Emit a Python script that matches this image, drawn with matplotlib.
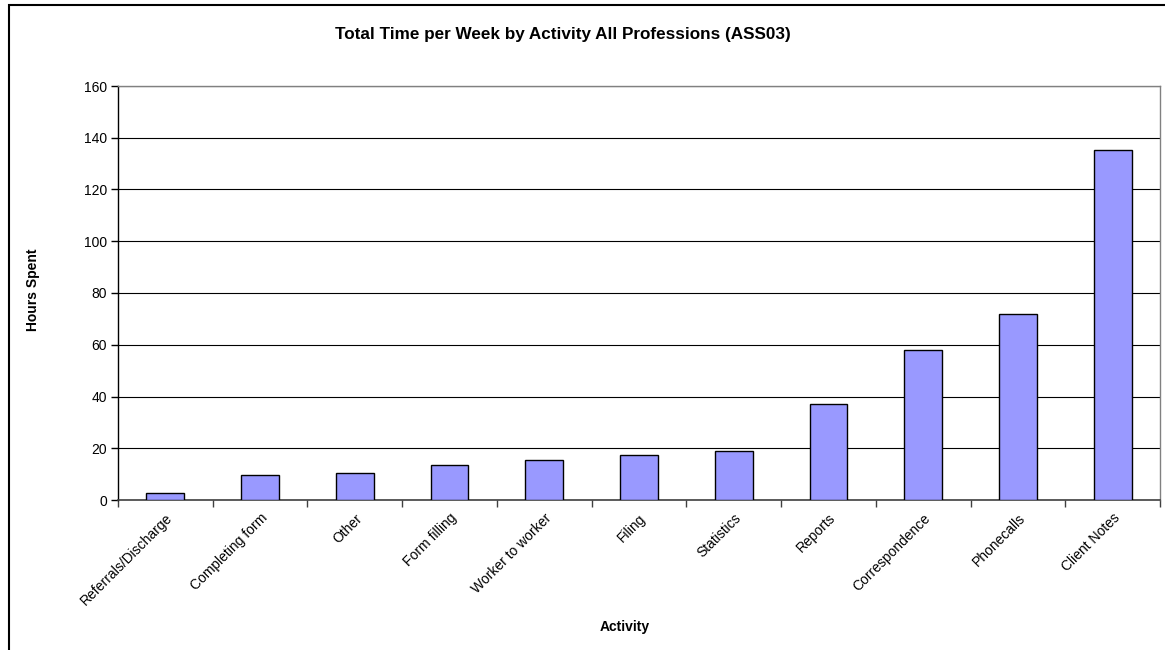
import numpy as np
import matplotlib
matplotlib.use("Agg")
import matplotlib.pyplot as plt
from matplotlib.patches import Rectangle

plt.rcParams['font.family'] = ['Liberation Sans', 'DejaVu Sans']

activities = ["Referrals/Discharge", "Completing form", "Other", "Form filling",
              "Worker to worker", "Filing", "Statistics", "Reports",
              "Correspondence", "Phonecalls", "Client Notes"]
hours = [2.6, 9.8, 10.6, 13.5, 15.6, 17.3, 19.1, 37.2, 58.0, 71.9, 135.4]
yticks = [0, 20, 40, 60, 80, 100, 120, 140, 160]

W, H = 1165, 650
fig = plt.figure(figsize=(W / 100, H / 100), dpi=100)

# outer chart border (Excel style)
fig.patches.append(Rectangle((9 / W, -0.1), 1.2, (H - 5) / H + 0.1,
                             transform=fig.transFigure, fill=False,
                             edgecolor='black', linewidth=1.5))

ax = fig.add_axes([118 / W, 150 / H, 1042 / W, 414 / H])
x = np.arange(len(activities))
ax.bar(x, hours, width=0.4, color='#9999FF', edgecolor='black', linewidth=1.0, zorder=3)

ax.set_xlim(-0.5, len(activities) - 0.5)
ax.set_ylim(0, 160)
ax.set_yticks(yticks)
ax.tick_params(axis='y', labelsize=10, length=5, width=1, direction='out', pad=3)
ax.yaxis.grid(True, color='black', linewidth=0.8, zorder=0)
ax.set_axisbelow(True)

# categories centered, ticks at boundaries
ax.set_xticks(x)
ax.set_xticklabels(activities, rotation=45, ha='right', rotation_mode='anchor', fontsize=10)
ax.tick_params(axis='x', length=0, pad=8)
ax.set_xticks(np.arange(-0.5, len(activities), 1), minor=True)
ax.tick_params(axis='x', which='minor', length=5, width=1, color='#404040')

for side in ['top', 'right']:
    ax.spines[side].set_color('#808080')
    ax.spines[side].set_linewidth(1)
ax.spines['left'].set_color('black')
ax.spines['bottom'].set_color('#404040')
ax.spines['left'].set_linewidth(1)
ax.spines['bottom'].set_linewidth(1.2)

fig.text(563 / W, 1 - 35 / H, "Total Time per Week by Activity All Professions (ASS03)",
         ha='center', va='center', fontsize=12.3, fontweight='bold')
fig.text(33 / W, 1 - 290 / H, "Hours Spent", rotation=90, ha='center', va='center',
         fontsize=10, fontweight='bold')
fig.text(625 / W, 1 - 627 / H, "Activity", ha='center', va='center',
         fontsize=10, fontweight='bold')

fig.savefig("out.png", dpi=100)
